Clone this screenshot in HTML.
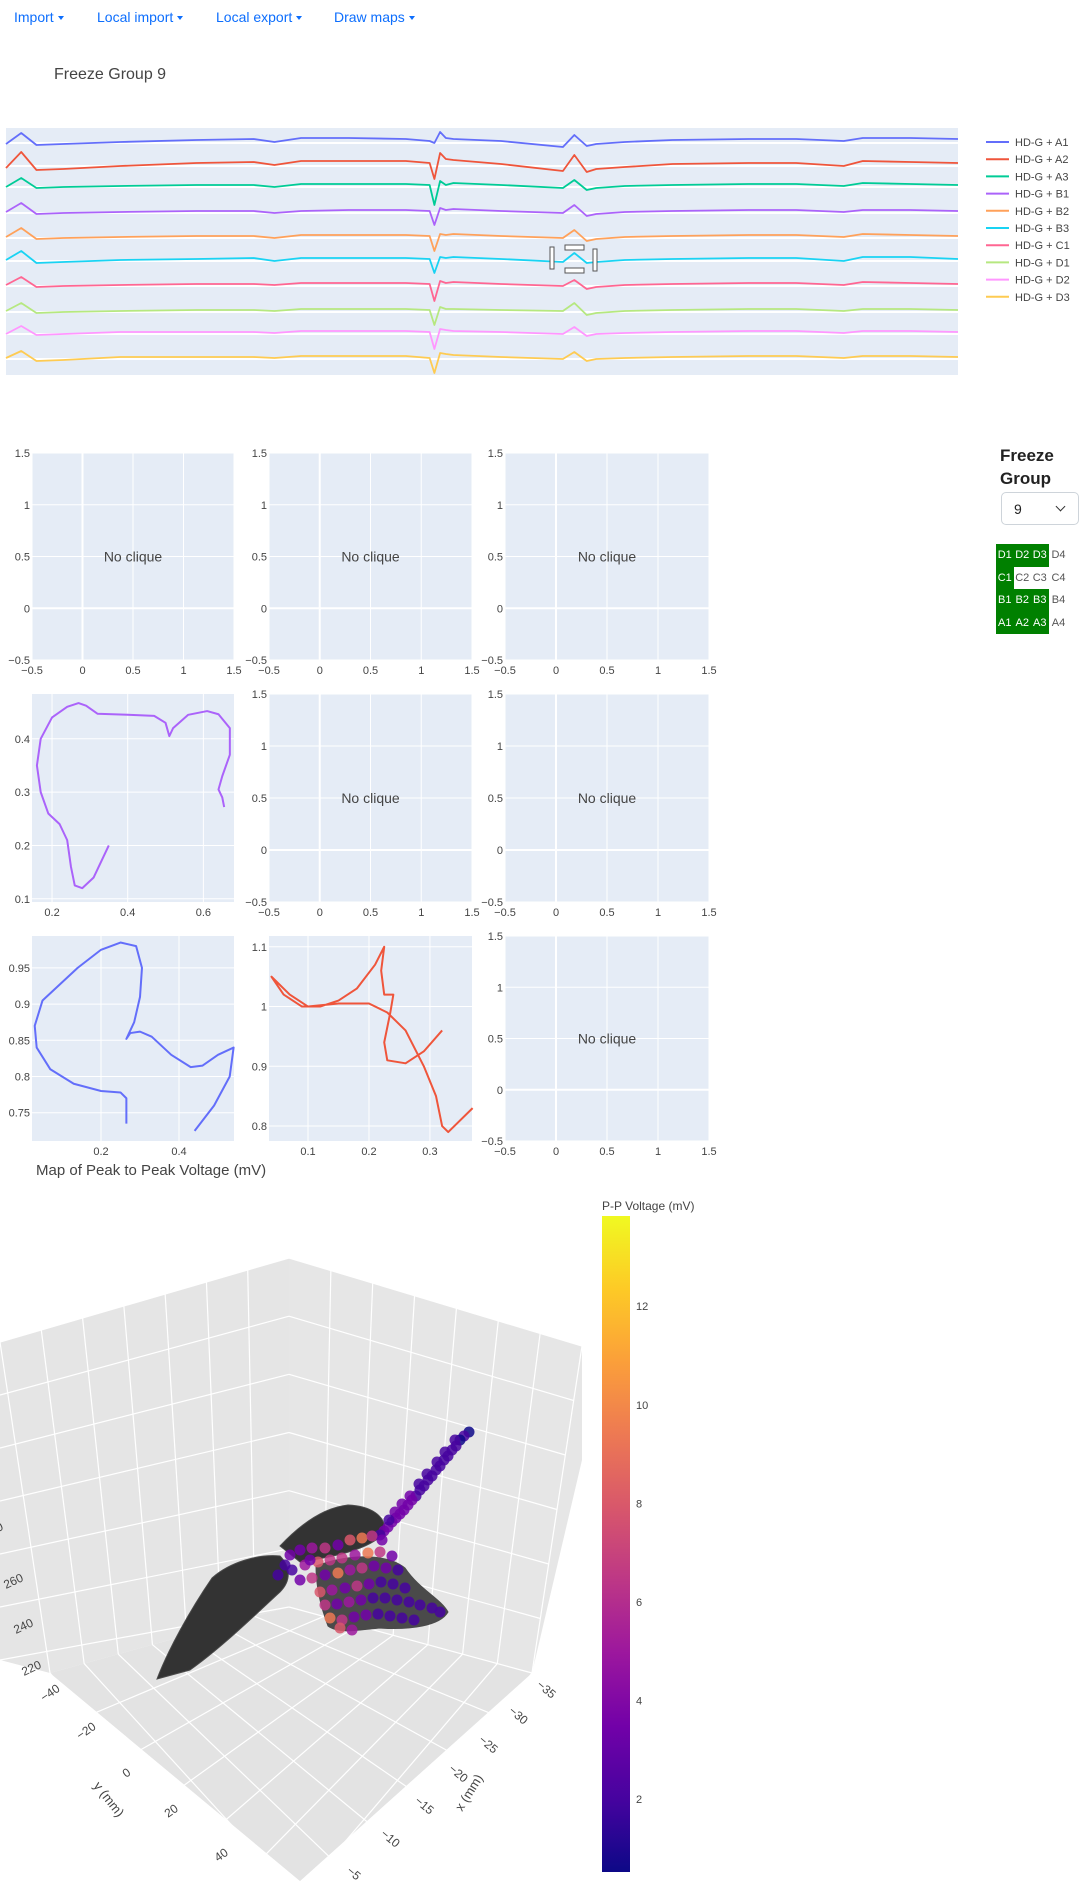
<!DOCTYPE html>
<html><head><meta charset="utf-8">
<style>
html,body{margin:0;width:1092px;height:1881px;overflow:hidden}
body{background:#fff;font-family:"Liberation Sans",sans-serif;position:relative}
.nav{position:absolute;top:9px;color:#0d6efd;font-size:14px}
.nav:after{content:"";display:inline-block;margin-left:4px;vertical-align:2px;border-top:4px solid #0d6efd;border-left:3px solid transparent;border-right:3px solid transparent}
svg{position:absolute;left:0;top:0;overflow:hidden}
</style></head><body>
<div class="nav" style="left:14px">Import</div>
<div class="nav" style="left:97px">Local import</div>
<div class="nav" style="left:216px">Local export</div>
<div class="nav" style="left:334px">Draw maps</div>
<div style="position:absolute;left:54px;top:66px;font-size:16px;color:#444">Freeze Group 9</div>
<div style="position:absolute;left:1000px;top:444px;font-size:17px;line-height:23px;color:#222;font-weight:bold">Freeze<br>Group</div>
<div style="position:absolute;left:1001px;top:492px;width:78px;height:33px;border:1px solid #ced4da;border-radius:5px;box-sizing:border-box;font-size:14px;color:#222"><span style="position:absolute;left:12px;top:8px">9</span><span style="position:absolute;right:14px;top:10px;width:6px;height:6px;border-right:1.5px solid #333;border-bottom:1.5px solid #333;transform:rotate(45deg)"></span></div>
<div id="grid" style="position:absolute;left:996px;top:544px"></div>
<svg id="main" width="1092" height="1881"></svg>
<script>
const NS="http://www.w3.org/2000/svg";
const svg=document.getElementById('main');
function el(tag,attrs,parent){const e=document.createElementNS(NS,tag);for(const k in attrs)e.setAttribute(k,attrs[k]);(parent||svg).appendChild(e);return e;}
function txt(s,x,y,attrs,parent){const t=el('text',Object.assign({x:x,y:y,'font-size':11,fill:'#444','font-family':'Liberation Sans, sans-serif'},attrs||{}),parent);t.textContent=s;return t;}

// electrode grid
const gridRows=[["D1","D2","D3","D4"],["C1","C2","C3","C4"],["B1","B2","B3","B4"],["A1","A2","A3","A4"]];
const gridOn=[[1,1,1,0],[1,0,0,0],[1,1,1,0],[1,1,1,0]];
const g=document.getElementById('grid');
gridRows.forEach((r,i)=>r.forEach((c,j)=>{const d=document.createElement('div');


d.style.cssText=`position:absolute;left:${j*17.5}px;top:${i*22.5}px;width:${j<3?17.5:20}px;height:22.5px;line-height:22.5px;text-align:center;font-size:11px;background:${gridOn[i][j]?'#008000':'#fff'};color:${gridOn[i][j]?'#fff':'#555'}`;d.textContent=c;g.appendChild(d);}));

// ===== top waveform chart =====
const wfTimes=[0,16,32,60,120,200,260,282,310,360,420,445,450,456,462,470,520,585,597,610,620,650,700,780,830,880,900,950,1000];
const wfNames=["HD-G + A1","HD-G + A2","HD-G + A3","HD-G + B1","HD-G + B2","HD-G + B3","HD-G + C1","HD-G + D1","HD-G + D2","HD-G + D3"];
const wfColors=["#636efa","#ef553b","#00cc96","#ab63fa","#ffa15a","#19d3f3","#ff6692","#b6e880","#ff97ff","#fecb52"];
const wfBase=[141,164,185,211,236,259,284,310,332,357];
const wfA1=[-3,8,-4,-3,-1,1,2,-1,3,3,2,0,-2,9,3,2,0,-6,6,-5,-3,-1,1,2,2,0,3,3,2];
const wfA2=[-4,12,-6,-5,-2,1,2,-1,3,3,3,1,-15,11,5,4,0,-7,9,-8,-5,-3,0,1,1,-2,3,2,1];
const wfA3=[-2,7,-3,-2,-1,0,0,-2,1,1,1,0,-20,4,0,2,0,-3,5,-5,-3,-1,0,1,1,-1,2,1,0];
const wfB1=[-1,8,-3,-2,-1,0,0,-2,0,1,1,0,-14,3,1,2,0,-2,6,-5,-3,-1,0,1,1,-1,1,1,0];
const wfB2=[-1,8,-3,-2,-1,0,0,-2,1,1,1,0,-15,2,1,2,0,-2,6,-5,-3,-1,0,1,1,-1,2,1,0];
const wfB3=[-1,8,-4,-3,-1,0,1,-2,1,1,1,0,-14,2,1,2,0,-3,6,-4,-3,-1,0,1,1,-2,2,2,0];
const wfC1=[-1,7,-3,-2,-1,0,0,-1,1,1,1,0,-17,3,1,2,0,-2,4,-5,-3,-1,0,1,1,-1,2,1,0];
const wfD1=[-1,7,-3,-2,-1,0,0,-1,1,1,1,0,-15,3,1,1,0,-1,7,-5,-3,-1,0,1,1,-1,1,1,0];
const wfD2=[-2,6,-3,-2,0,0,0,-1,1,1,1,0,-17,3,2,1,0,-2,5,-4,-2,-1,0,1,1,-1,1,1,0];
const wfD3=[-1,6,-4,-3,0,0,0,-1,1,1,1,-1,-16,4,3,2,0,-2,5,-4,-2,-1,0,1,1,-1,1,1,0];
const wfSeries=[wfA1,wfA2,wfA3,wfB1,wfB2,wfB3,wfC1,wfD1,wfD2,wfD3];
const wfL=6,wfR=958,wfT=128,wfB=375;
const wfX=t=>wfL+(wfR-wfL)*t/1000;
const wfY=(i,v)=>wfBase[i]-v;
const wfBg=el('rect',{x:wfL,y:wfT,width:wfR-wfL,height:wfB-wfT,fill:'#e5ecf6'});


wfBase.forEach((b,i)=>{const l=el('line',{x1:wfL,x2:wfR,y1:b+2,y2:b+2,stroke:'#fff','stroke-width':2});

});
wfSeries.forEach((s,i)=>{
  const p=el('polyline',{points:s.map((v,k)=>wfX(wfTimes[k])+','+wfY(i,v)).join(' '),fill:'none',stroke:wfColors[i],'stroke-width':1.8,'stroke-linejoin':'round'});
  
  
  const ly=142+i*17.2;
  const lg=el('g',{});
  
  
  el('line',{x1:986,x2:1009,y1:ly,y2:ly,stroke:wfColors[i],'stroke-width':2},lg);
  txt(wfNames[i],1015,ly+4,{'font-size':11},lg);
});
const sb=el('g',{fill:'#fff',stroke:'#555','stroke-width':1});


el('rect',{x:550,y:247,width:4,height:22},sb);el('rect',{x:593,y:249,width:4,height:22},sb);
el('rect',{x:565,y:245,width:19,height:5},sb);el('rect',{x:565,y:268,width:19,height:5},sb);

// ===== subplot grid =====
const cols=[[32,234],[269,472],[505,709]];
const rows=[[453,660],[694,902],[936,1141]];
function axes(ci,ri,xr,yr,xt,yt,name){
  const [L,R]=cols[ci],[T,B]=rows[ri];
  const sx=v=>L+(v-xr[0])/(xr[1]-xr[0])*(R-L);
  const sy=v=>B-(v-yr[0])/(yr[1]-yr[0])*(B-T);
  const gg=el('g',{});
  
  
  el('rect',{x:L,y:T,width:R-L,height:B-T,fill:'#e5ecf6'},gg);
  xt.forEach(v=>{el('line',{x1:sx(v),x2:sx(v),y1:T,y2:B,stroke:'#fff','stroke-width':v===0?2:1},gg);txt(String(v).replace('-','−'),sx(v),B+14,{'text-anchor':'middle'},gg);});
  yt.forEach(v=>{el('line',{x1:L,x2:R,y1:sy(v),y2:sy(v),stroke:'#fff','stroke-width':v===0?2:1},gg);txt(String(v).replace('-','−'),L-2,sy(v)+4,{'text-anchor':'end'},gg);});
  return {sx,sy,gg,L,R,T,B};
}
const emptyTicks=[-0.5,0,0.5,1,1.5];
function empty(ci,ri,name){const a=axes(ci,ri,[-0.5,1.5],[-0.5,1.5],emptyTicks,emptyTicks,name);
  txt('No clique',(a.L+a.R)/2,(a.T+a.B)/2+5,{'text-anchor':'middle','font-size':14},a.gg);}
empty(0,0,'subplot-r1c1');empty(1,0,'subplot-r1c2');empty(2,0,'subplot-r1c3');
empty(1,1,'subplot-r2c2');empty(2,1,'subplot-r2c3');empty(2,2,'subplot-r3c3');

const purpleX=[0.35,0.31,0.28,0.26,0.25,0.24,0.22,0.19,0.17,0.16,0.17,0.2,0.24,0.27,0.29,0.32,0.4,0.47,0.5,0.51,0.52,0.56,0.61,0.64,0.67,0.67,0.65,0.64,0.65,0.655];
const purpleY=[0.2,0.14,0.12,0.125,0.16,0.21,0.24,0.26,0.3,0.35,0.4,0.44,0.46,0.467,0.462,0.447,0.445,0.443,0.43,0.405,0.42,0.445,0.452,0.446,0.42,0.37,0.33,0.305,0.29,0.272];
const blueX=[0.265,0.265,0.25,0.2,0.13,0.07,0.035,0.03,0.05,0.09,0.14,0.2,0.25,0.29,0.305,0.3,0.285,0.265,0.275,0.3,0.33,0.38,0.43,0.46,0.5,0.54,0.53,0.49,0.44];
const blueY=[0.735,0.77,0.778,0.78,0.79,0.81,0.84,0.87,0.905,0.925,0.95,0.975,0.985,0.98,0.95,0.91,0.875,0.852,0.86,0.862,0.855,0.83,0.813,0.815,0.83,0.84,0.8,0.76,0.725];
const redX=[0.37,0.33,0.32,0.31,0.29,0.26,0.23,0.2,0.15,0.1,0.07,0.04,0.06,0.09,0.12,0.15,0.18,0.21,0.225,0.22,0.225,0.24,0.235,0.225,0.23,0.26,0.29,0.32];
const redY=[0.83,0.79,0.8,0.85,0.9,0.96,0.99,1.005,1.005,1.0,1.02,1.05,1.02,1.0,1.0,1.01,1.03,1.07,1.1,1.06,1.02,1.02,0.99,0.94,0.91,0.905,0.925,0.96];
function curve(a,xs,ys,color,name){const p=el('polyline',{points:xs.map((x,i)=>a.sx(x)+','+a.sy(ys[i])).join(' '),fill:'none',stroke:color,'stroke-width':2,'stroke-linejoin':'round'},a.gg);
  
  }
const aP=axes(0,1,[0.147,0.681],[0.094,0.484],[0.2,0.4,0.6],[0.1,0.2,0.3,0.4],'subplot-r2c1');
curve(aP,purpleX,purpleY,'#ab63fa','purple-loop');
const aB=axes(0,2,[0.023,0.541],[0.711,0.994],[0.2,0.4],[0.75,0.8,0.85,0.9,0.95],'subplot-r3c1');
curve(aB,blueX,blueY,'#636efa','blue-loop');
const aR=axes(1,2,[0.036,0.369],[0.775,1.118],[0.1,0.2,0.3],[0.8,0.9,1,1.1],'subplot-r3c2');
curve(aR,redX,redY,'#ef553b','red-loop');

// ===== 3D map =====
const mt=txt('Map of Peak to Peak Voltage (mV)',36,1175,{'font-size':15});


const sc=el('g',{});


const TOP=[289,1258],BK=[289,1607],LT=[0,1342],LB=[50,1673],RT=[582,1346],RM=[582,1460],RB=[532,1673],FR=[300,1980];
const lerp=(a,b,f)=>[a[0]+(b[0]-a[0])*f,a[1]+(b[1]-a[1])*f];
el('polygon',{points:[LT,TOP,BK,LB,[0,1660]].map(p=>p.join(',')).join(' '),fill:'#e5e5e5'},sc);
el('polygon',{points:[TOP,RT,RM,RB,BK].map(p=>p.join(',')).join(' '),fill:'#e6e6e6'},sc);
el('polygon',{points:[LB,BK,RB,[300,1881]].map(p=>p.join(',')).join(' '),fill:'#e3e3e3'},sc);
el('polygon',{points:[LB,[300,1881],RB].map(p=>p.join(',')).join(' '),fill:'#e3e3e3'},sc);
const gl={stroke:'#fff','stroke-width':1.2,fill:'none'};
function ln(a,b){el('line',Object.assign({x1:a[0],y1:a[1],x2:b[0],y2:b[1]},gl),sc);}
for(let k=0;k<=6;k++){const f=k/6;ln(lerp(TOP,BK,f),lerp(LT,[0,1660],f));ln(lerp(TOP,BK,f),lerp(RT,RB,f));}
for(let k=1;k<=7;k++){const f=k/7;ln(lerp(TOP,LT,f),lerp(BK,LB,f));ln(lerp(TOP,RT,f),lerp(BK,RB,f));}
for(let k=1;k<=7;k++){const f=k/7;ln(lerp(BK,LB,f),lerp(RB,FR,f));ln(lerp(BK,RB,f),lerp(LB,FR,f));}
// mesh (inside the scene group, under the points)
const mesh=el('g',{fill:'#333',stroke:'#4a4a4a','stroke-width':1},sc);


el('path',{d:'M157,1679 C168,1650 190,1610 212,1578 C230,1562 258,1554 280,1556 C290,1566 292,1580 280,1592 C258,1612 225,1645 190,1670 Z'},mesh);
el('path',{d:'M280,1546 C295,1530 320,1508 348,1505 C370,1506 386,1515 385,1532 C372,1548 340,1556 300,1562 Z'},mesh);
el('path',{d:'M316,1566 C345,1555 385,1552 405,1568 C420,1590 440,1598 448,1612 C440,1626 410,1630 380,1628 C360,1630 338,1634 328,1626 C320,1605 316,1585 316,1566 Z',fill:'#4a4a4a'},mesh);
// scatter data (projected scene coords)
const ptU=[469,464,460,456,452,448,444,440,436,432,428,424,420,416,412,408,404,400,396,392,388,384,380,455,445,437,427,419,410,402,395,389,
290,300,312,325,338,350,362,372,382,292,305,318,330,342,355,368,380,392,300,312,325,338,350,362,374,386,398,320,332,345,357,369,381,393,405,325,337,349,361,373,385,397,409,420,432,440,330,342,354,366,378,390,402,414,340,352,285,278,310];
const ptV=[1432,1436,1440,1446,1450,1456,1460,1466,1470,1476,1480,1486,1490,1496,1500,1505,1510,1514,1518,1522,1527,1531,1535,1440,1452,1462,1474,1484,1496,1504,1512,1520,
1555,1550,1548,1548,1545,1540,1538,1536,1540,1570,1565,1562,1560,1558,1555,1553,1552,1556,1580,1578,1575,1573,1570,1568,1566,1568,1570,1592,1590,1588,1586,1584,1582,1584,1588,1605,1604,1602,1600,1598,1598,1600,1602,1605,1608,1612,1618,1620,1617,1615,1614,1616,1618,1620,1628,1630,1565,1575,1560];
const ptVal=[1.2,1.3,1.2,1.4,1.3,1.5,1.4,1.6,1.5,1.8,2,2.2,2.5,2.6,3,3.2,3.5,3.8,4,3.5,3,3,2.5,1.3,1.5,1.6,2,2.2,2.8,3,3,2.5,
3,4,5,6,4,8,9,7,3,2,5,8,6,7,5,10,6,3,3,6,4,9,5,7,4,3,2,8,5,4,6,3,2,2,2,7,4,5,3,2,2,2,2,1.8,1.5,1.5,9,6,4,3,2,2,1.8,1.6,8,5,2,1.8,3];
const cbMin=0.52,cbMax=13.83;
const plasma=['#0d0887','#46039f','#7201a8','#9c179e','#bd3786','#d8576b','#ed7953','#fb9f3a','#fdca26','#f0f921'];
function cmap(v){const f=Math.max(0,Math.min(1,(v-cbMin)/(cbMax-cbMin)))*(plasma.length-1);return plasma[Math.round(f)];}
ptU.forEach((u,i)=>{const c=el('circle',{cx:u,cy:ptV[i],r:5.5,fill:cmap(ptVal[i]),opacity:0.85},sc);
  
  });
// axis ticks
const zTicks=['220','240','260','60'],zPos=[[24,1676],[16,1634],[6,1589],[-8,1535]];
zTicks.forEach((s,i)=>txt(s,zPos[i][0],zPos[i][1],{'font-size':12,transform:`rotate(-25 ${zPos[i][0]} ${zPos[i][1]})`},sc));
const yTicks=['−40','−20','0','20','40'],yPos=[[44,1702],[80,1740],[126,1778],[168,1818],[218,1862]];
yTicks.forEach((s,i)=>txt(s,yPos[i][0],yPos[i][1],{'font-size':12,transform:`rotate(-35 ${yPos[i][0]} ${yPos[i][1]})`},sc));
txt('y (mm)',93,1786,{'font-size':13,transform:'rotate(52 93 1786)'},sc);
const xTicks=['−35','−30','−25','−20','−15','−10','−5'],xPos=[[536,1686],[508,1712],[478,1741],[448,1770],[414,1802],[380,1835],[346,1872]];
xTicks.forEach((s,i)=>txt(s,xPos[i][0],xPos[i][1],{'font-size':12,transform:`rotate(40 ${xPos[i][0]} ${xPos[i][1]})`},sc));
txt('x (mm)',462,1812,{'font-size':13,transform:'rotate(-58 462 1812)'},sc);
// colorbar
const defs=el('defs',{});const lg=el('linearGradient',{id:'pl',x1:0,y1:1,x2:0,y2:0},defs);
plasma.forEach((c,i)=>el('stop',{offset:i/(plasma.length-1),'stop-color':c},lg));
const cb=el('g',{});


el('rect',{x:602,y:1216,width:28,height:656,fill:'url(#pl)'},cb);
txt('P-P Voltage (mV)',602,1210,{'font-size':12},cb);
const cbTicks=[2,4,6,8,10,12];
const cbY=v=>1872-(v-cbMin)/(cbMax-cbMin)*656;
cbTicks.forEach(v=>txt(String(v),636,cbY(v)+4,{'font-size':11},cb));
</script>
</body></html>
